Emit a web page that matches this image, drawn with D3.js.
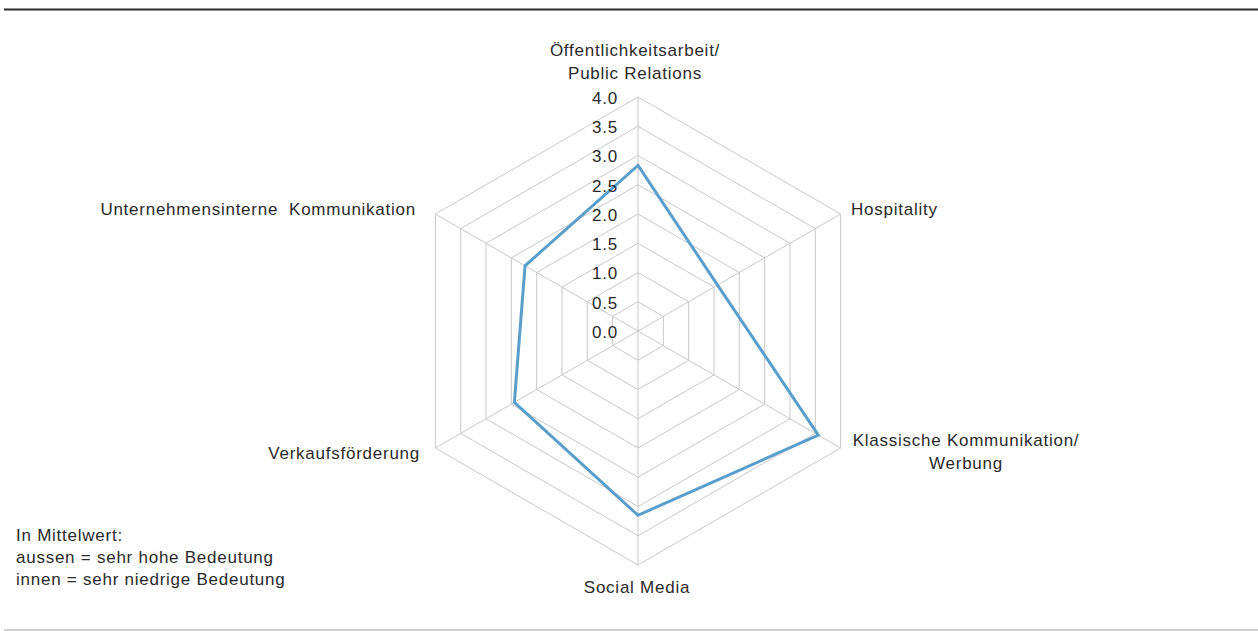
<!DOCTYPE html>
<html>
<head>
<meta charset="utf-8">
<script src="https://cdn.jsdelivr.net/npm/d3@7"></script>
<style>
  body { margin: 0; background: #fff; }
  svg { display: block; }
  text { font-family: "Liberation Sans", Arial, sans-serif; fill: #2a2a2a; }
</style>
</head>
<body>
<svg id="chart" width="1258" height="631"></svg>
<script>
// Achsen (Kategorien) und Mittelwerte
var categories = [
  ['Öffentlichkeitsarbeit/', 'Public Relations'],
  ['Hospitality'],
  ['Klassische Kommunikation/', 'Werbung'],
  ['Social Media'],
  ['Verkaufsförderung'],
  ['Unternehmensinterne  Kommunikation']
];
var values = [2.83, 1.57, 3.56, 3.15, 2.44, 2.23];
var ticks = [0, 0.5, 1, 1.5, 2, 2.5, 3, 3.5, 4];
var note = ['In Mittelwert:', 'aussen = sehr hohe Bedeutung', 'innen = sehr niedrige Bedeutung'];

var svg = d3.select('#chart');
var cx = 638, cy = 331;
var fontSize = '17px', spacing = '0.75px';

var r = d3.scaleLinear().domain([0, 4]).range([0, 234]);
var angle = d3.scaleLinear().domain([0, categories.length]).range([0, 2 * Math.PI]);

function pt(i, v) {
  var a = angle(i);
  return [cx + r(v) * Math.sin(a), cy - r(v) * Math.cos(a)];
}

// Rahmenlinien oben und unten
svg.append('line')
  .attr('x1', 4).attr('x2', 1258).attr('y1', 9.5).attr('y2', 9.5)
  .attr('stroke', '#2b2b2b').attr('stroke-width', 2);
svg.append('line')
  .attr('x1', 4).attr('x2', 1258).attr('y1', 630).attr('y2', 630)
  .attr('stroke', '#a0a0a0').attr('stroke-width', 1.2);

var g = svg.append('g');

// Gitter (Sechsecke)
var ring = d3.line();
g.selectAll('.ring').data(ticks.filter(function(d) { return d > 0; }))
  .enter().append('path')
  .attr('class', 'ring')
  .attr('d', function(t) {
    return ring(categories.map(function(c, i) { return pt(i, t); })) + 'Z';
  })
  .attr('fill', 'none')
  .attr('stroke', '#c8c8c8')
  .attr('stroke-width', 1);

// Speichen
g.selectAll('.spoke').data(categories)
  .enter().append('line')
  .attr('class', 'spoke')
  .attr('x1', cx).attr('y1', cy)
  .attr('x2', function(d, i) { return pt(i, 4)[0]; })
  .attr('y2', function(d, i) { return pt(i, 4)[1]; })
  .attr('stroke', '#c8c8c8')
  .attr('stroke-width', 1);

// Datenlinie
g.append('path')
  .attr('d', ring(values.map(function(v, i) { return pt(i, v); })) + 'Z')
  .attr('fill', 'none')
  .attr('stroke', '#5a9ecb')
  .attr('stroke-width', 3)
  .attr('stroke-linejoin', 'miter');

// Skalenbeschriftung
g.selectAll('.tick').data(ticks)
  .enter().append('text')
  .attr('class', 'tick')
  .attr('x', cx - 20)
  .attr('y', function(d) { return cy - r(d) + 1; })
  .attr('dy', '0.35em')
  .attr('text-anchor', 'end')
  .style('font-size', fontSize)
  .style('letter-spacing', spacing)
  .text(function(d) { return d3.format('.1f')(d); });

// Achsenbeschriftungen
var labelPos = [
  { x: 635, y: 50, anchor: 'middle' },
  { x: 851, y: 209, anchor: 'start' },
  { x: 966, y: 440, anchor: 'middle' },
  { x: 637, y: 587, anchor: 'middle' },
  { x: 420, y: 453, anchor: 'end' },
  { x: 416, y: 209, anchor: 'end' }
];
categories.forEach(function(lines, i) {
  var p = labelPos[i];
  var t = svg.append('text')
    .attr('text-anchor', p.anchor)
    .style('font-size', fontSize)
    .style('letter-spacing', spacing)
    .style('white-space', 'pre');
  lines.forEach(function(s, j) {
    t.append('tspan')
      .attr('x', p.x)
      .attr('y', p.y + j * 23)
      .attr('dy', '0.35em')
      .text(s);
  });
});

// Hinweis unten links
svg.append('text')
  .style('font-size', fontSize)
  .style('letter-spacing', spacing)
  .selectAll('tspan').data(note)
  .enter().append('tspan')
  .attr('x', 16)
  .attr('y', function(d, i) { return 535 + i * 22; })
  .attr('dy', '0.35em')
  .text(function(d) { return d; });
</script>
</body>
</html>
